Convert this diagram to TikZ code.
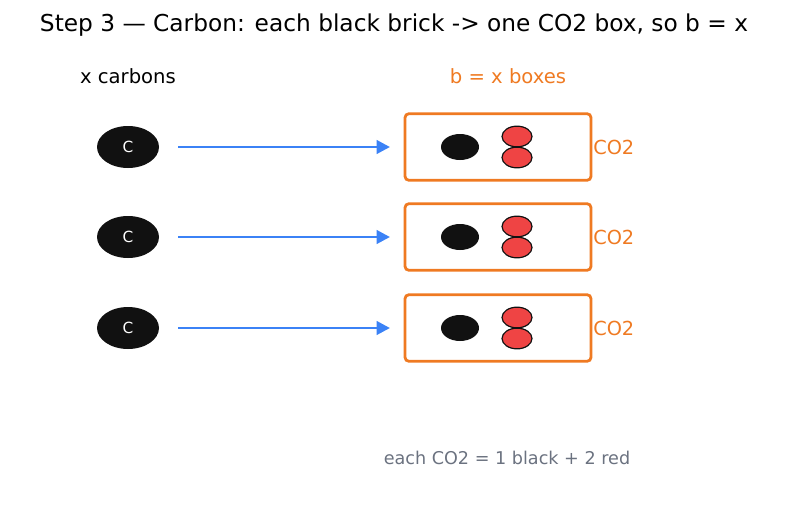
\documentclass[tikz,border=0pt]{standalone}
\usepackage{fontspec}
\setmainfont{DejaVu Sans}
\usetikzlibrary{arrows.meta,shapes.geometric}
\definecolor{orng}{HTML}{EF7A22}
\definecolor{blu}{HTML}{3B82F6}
\definecolor{rd}{HTML}{EF4444}
\definecolor{blk}{HTML}{111111}
\definecolor{gry}{HTML}{6B7280}
\begin{document}
\begin{tikzpicture}[x=0.75pt,y=-0.75pt,
  carbon/.style={ellipse,fill=blk,minimum width=46.5pt,minimum height=31.5pt,inner sep=0pt,text=white,font=\fontsize{11.5}{13}\selectfont},
  co2box/.style={rectangle,draw=orng,line width=2.1pt,rounded corners=3pt,minimum width=139.5pt,minimum height=50pt,inner sep=0pt},
  cdot/.style={ellipse,fill=blk,minimum width=28.5pt,minimum height=19.5pt,inner sep=0pt},
  odot/.style={ellipse,fill=rd,draw=blk,line width=0.9pt,minimum width=22.5pt,minimum height=15.5pt,inner sep=0pt},
  conn/.style={draw=blu,line width=2.2pt,-{Triangle[length=10pt,width=10pt]}},
  lbl/.style={text=orng,font=\fontsize{14.5}{17}\selectfont,anchor=west,inner sep=0pt}]
\useasboundingbox (0,0) rectangle (787,510);
\node[font=\fontsize{17.45}{21}\selectfont] (title) at (394,25) {Step 3 — Carbon: each black brick -> one CO2 box, so b = x};
\node[font=\fontsize{14.7}{17}\selectfont] (hl) at (128,76) {x carbons};
\node[text=orng,font=\fontsize{14.7}{17}\selectfont] (hr) at (508,76) {b = x boxes};
\foreach \i/\y in {1/147,2/237,3/328}{
  \node[carbon] (c\i) at (128,\y) {C};
  \node[co2box] (b\i) at (498,\y) {};
  \node[cdot] (k\i) at (460,\y) {};
  \node[odot] (ot\i) at (517,\y-10.5) {};
  \node[odot] (ob\i) at (517,\y+10.5) {};
  \node[lbl] (l\i) at (593,\y) {CO2};
  \coordinate (s\i) at (178,\y);
  \coordinate (e\i) at (390,\y);
  \draw[conn] (s\i) -- (e\i);
}
\node[text=gry,font=\fontsize{13.2}{16}\selectfont] (foot) at (507,458) {each CO2 = 1 black + 2 red};
\end{tikzpicture}
\end{document}
